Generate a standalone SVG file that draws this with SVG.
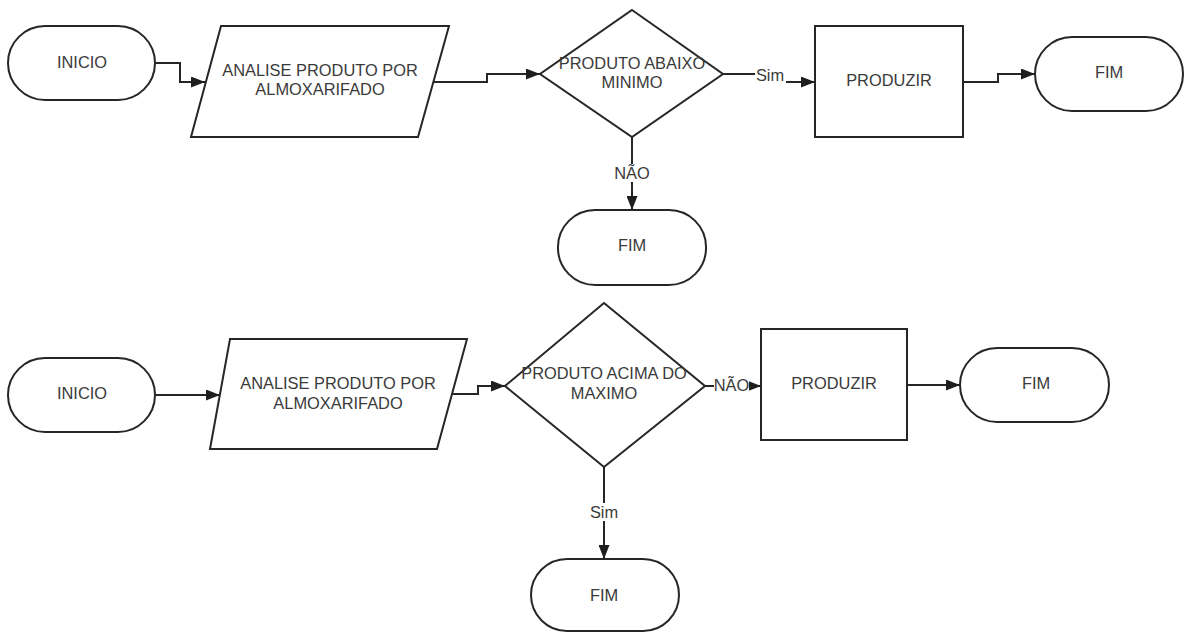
<svg xmlns="http://www.w3.org/2000/svg" width="1185" height="632" viewBox="0 0 1185 632">
  <defs>
    <marker id="arrow" markerUnits="userSpaceOnUse" markerWidth="14" markerHeight="11" refX="14" refY="5.5" orient="auto">
      <path d="M0,0 L14,5.5 L0,11 z" fill="#1e1e1e"/>
    </marker>
    <style>
      .shape { fill: #ffffff; stroke: #262626; stroke-width: 2; }
      .label { font-family: "Liberation Sans", Arial, sans-serif; font-size: 16.4px; fill: #3a3a3a; text-anchor: middle; dominant-baseline: central; }
      .edge { fill: none; stroke: #262626; stroke-width: 2; marker-end: url(#arrow); }
      .edge-bg { fill: #ffffff; }
    </style>
  </defs>
  <rect width="1185" height="632" fill="#ffffff"/>

  <!-- connectors -->
  <g id="connectors">
    <path class="edge" d="M155,63 H180 V82 H205"/>
    <path class="edge" d="M434,82 H487 V74 H540"/>
    <path class="edge" d="M723,74 H785 V82 H815"/>
    <path class="edge" d="M963,82 H998 V74 H1035"/>
    <path class="edge" d="M632,137 V210"/>
    <path class="edge" d="M155,395 H220"/>
    <path class="edge" d="M452,394 H478 V386 H505"/>
    <path class="edge" d="M705,386 H761"/>
    <path class="edge" d="M907,385 H960"/>
    <path class="edge" d="M604,467 V559"/>

    <!-- edge labels -->
    <g id="label-sim-top">
      <rect class="edge-bg" x="755" y="65" width="31" height="19"/>
      <text class="label" x="770" y="75">Sim</text>
    </g>
    <g id="label-nao-top">
      <rect class="edge-bg" x="614" y="164" width="36" height="18"/>
      <text class="label" x="632" y="173">NÃO</text>
    </g>
    <g id="label-nao-bottom">
      <rect class="edge-bg" x="714" y="376" width="35" height="18"/>
      <text class="label" x="731.5" y="385">NÃO</text>
    </g>
    <g id="label-sim-bottom">
      <rect class="edge-bg" x="588" y="503" width="32" height="18"/>
      <text class="label" x="604" y="512">Sim</text>
    </g>
  </g>

  <!-- upper flow -->
  <g id="inicio-1">
    <rect class="shape" x="8" y="26" width="147" height="74" rx="37" ry="37"/>
    <text class="label" x="82" y="62">INICIO</text>
  </g>
  <g id="analise-1">
    <polygon class="shape" points="221,26 449,26 418,137 191,137"/>
    <text class="label" x="320" y="70">ANALISE PRODUTO POR</text>
    <text class="label" x="320" y="89">ALMOXARIFADO</text>
  </g>
  <g id="decisao-minimo">
    <polygon class="shape" points="632,10 723,74 632,137 540,74"/>
    <text class="label" x="632" y="63">PRODUTO ABAIXO</text>
    <text class="label" x="632" y="82">MINIMO</text>
  </g>
  <g id="produzir-1">
    <rect class="shape" x="815" y="26" width="148" height="111"/>
    <text class="label" x="889" y="80">PRODUZIR</text>
  </g>
  <g id="fim-1">
    <rect class="shape" x="1035" y="37" width="148" height="74" rx="37" ry="37"/>
    <text class="label" x="1109" y="72">FIM</text>
  </g>
  <g id="fim-2">
    <rect class="shape" x="558" y="210" width="148" height="75" rx="37" ry="37"/>
    <text class="label" x="632" y="245">FIM</text>
  </g>

  <!-- lower flow -->
  <g id="inicio-2">
    <rect class="shape" x="8" y="358" width="147" height="74" rx="37" ry="37"/>
    <text class="label" x="82" y="393">INICIO</text>
  </g>
  <g id="analise-2">
    <polygon class="shape" points="230,339 467,339 437,449 210,449"/>
    <text class="label" x="338" y="383">ANALISE PRODUTO POR</text>
    <text class="label" x="338" y="403">ALMOXARIFADO</text>
  </g>
  <g id="decisao-maximo">
    <polygon class="shape" points="604,303 705,386 604,467 505,386"/>
    <text class="label" x="604" y="373">PRODUTO ACIMA DO</text>
    <text class="label" x="604" y="393">MAXIMO</text>
  </g>
  <g id="produzir-2">
    <rect class="shape" x="761" y="329" width="146" height="111"/>
    <text class="label" x="834" y="383">PRODUZIR</text>
  </g>
  <g id="fim-3">
    <rect class="shape" x="960" y="348" width="149" height="74" rx="37" ry="37"/>
    <text class="label" x="1036" y="383">FIM</text>
  </g>
  <g id="fim-4">
    <rect class="shape" x="531" y="559" width="148" height="72" rx="36" ry="36"/>
    <text class="label" x="604" y="595">FIM</text>
  </g>
</svg>
